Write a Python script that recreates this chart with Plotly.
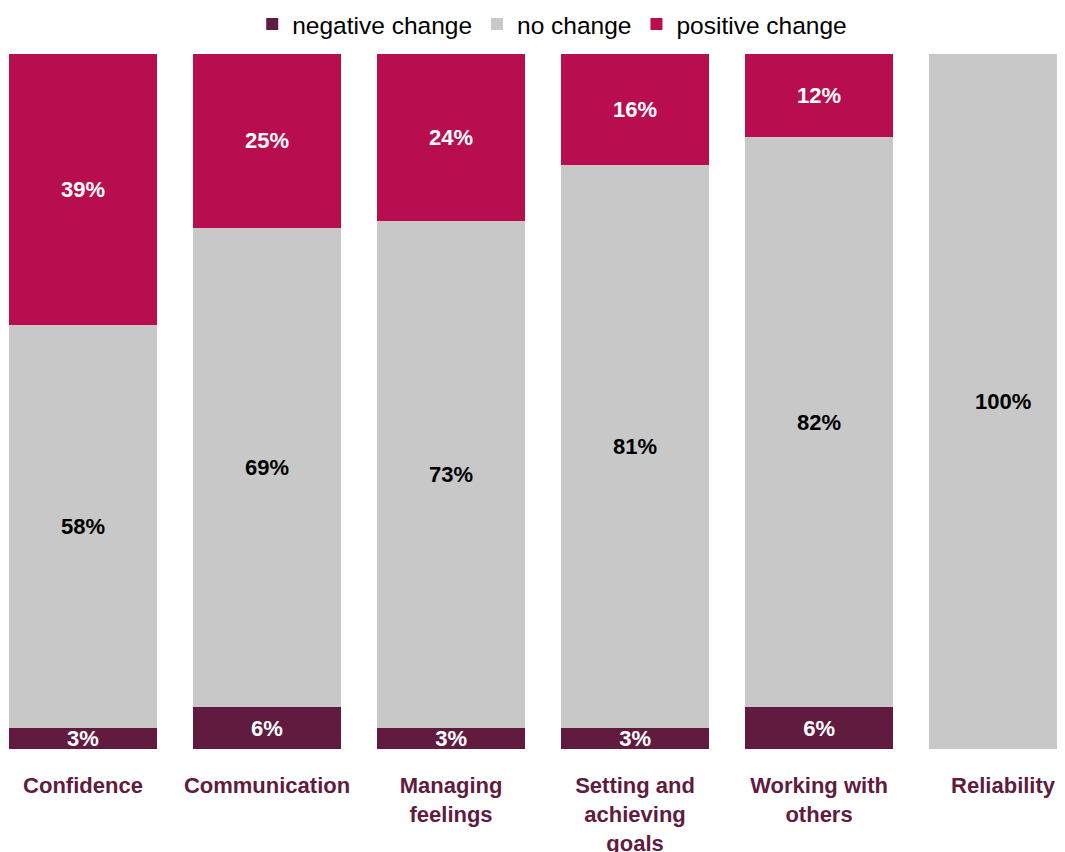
import plotly.graph_objects as go

categories = ["Confidence", "Communication", "Managing<br>feelings",
              "Setting and<br>achieving<br>goals", "Working with<br>others", "Reliability"]
negative = [3, 6, 3, 3, 6, 0]
no_change = [58, 69, 73, 81, 82, 100]
positive = [39, 25, 24, 16, 12, 0]

series = [
    ("negative change", negative, "#611B3F", "white"),
    ("no change", no_change, "#C8C8C8", "black"),
    ("positive change", positive, "#B80D4E", "white"),
]

FONT = "Liberation Sans, Arial"

fig = go.Figure()
for name, vals, color, tcolor in series:
    fig.add_trace(go.Bar(
        x=categories, y=vals, name=name,
        marker=dict(color=color, line=dict(width=0)),
        text=[f"{v}%" if v > 0 else "" for v in vals],
        texttemplate="<b>%{text}</b>",
        textposition="inside", insidetextanchor="middle",
        constraintext="none",
        textfont=dict(family=FONT, size=22, color=tcolor),
        width=0.805,
        hoverinfo="skip",
    ))

fig.update_layout(
    barmode="stack",
    width=1065, height=852,
    margin=dict(l=0, r=0, t=46, b=111, autoexpand=False),
    plot_bgcolor="white", paper_bgcolor="white",
    uniformtext=dict(minsize=22, mode="show"),
    font=dict(family=FONT, color="black"),
    legend=dict(orientation="h", x=0.511, xanchor="center", y=1.043, yanchor="middle",
                font=dict(family=FONT, size=24.5, color="black"),
                traceorder="normal", itemclick=False),
    xaxis=dict(range=[-0.4076, 5.380], showgrid=False, showline=False, zeroline=False,
               ticks="outside", ticklen=17, tickcolor="rgba(0,0,0,0)",
               tickvals=categories, ticktext=[f"<b>{c}</b>" for c in categories],
               tickfont=dict(family=FONT, size=22, color="#611B3F")),
    yaxis=dict(range=[0, 100], visible=False),
)

fig.write_html("out.html")
